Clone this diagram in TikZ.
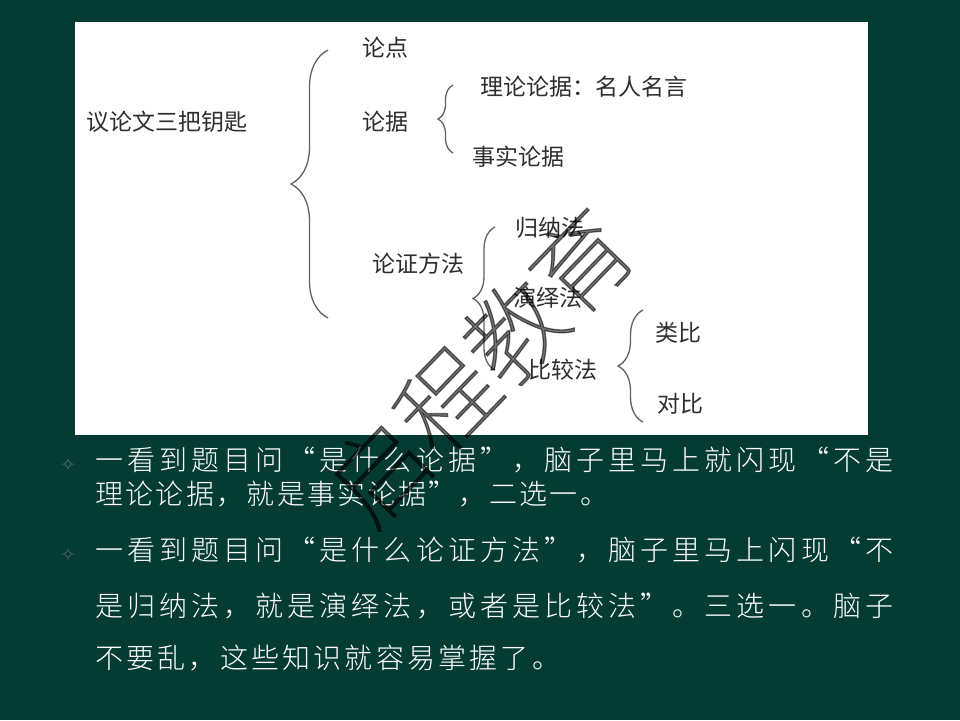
\documentclass[tikz,border=0pt]{standalone}
\usepackage{fontspec}
\usetikzlibrary{decorations.pathreplacing}
\newfontfamily\cjk{Noto Sans CJK SC}
\newfontfamily\sym{DejaVu Sans}
\IfFontExistsTF{Noto Sans CJK SC Thin}
  {\newfontfamily\wmfont{Noto Sans CJK SC Thin}\def\wmmode{2}}
  {\newfontfamily\wmfont{Noto Sans CJK SC}\def\wmmode{1}}
\IfFontExistsTF{Noto Sans CJK SC Light}
  {\newfontfamily\bodyfont{Noto Sans CJK SC Light}}
  {\newfontfamily\bodyfont{Noto Sans CJK SC}}
\definecolor{bggreen}{RGB}{4,59,51}
\definecolor{bulcol}{RGB}{80,95,110}
\def\spreadA#1{\ifx#1\relax\else#1\hfil\expandafter\spreadA\fi}
\newcommand\spreadline[2]{\hbox to #1{\spreadA#2\relax\unskip}}
\newcommand\wmtext[1]{\special{pdf:literal direct \wmmode\space Tr 1.2 w}#1\special{pdf:literal direct 0 Tr}}
\tikzset{
  lbl/.style={font=\cjk\fontsize{23}{23}\selectfont, text=black!82, inner sep=0pt, anchor=west},
  bracepath/.style={draw=black!62, line width=1.3pt, decorate, decoration={brace, amplitude=#1}},
  body/.style={font=\bodyfont\fontsize{28}{28}\selectfont, text=white, inner sep=0pt, anchor=base west},
  bul/.style={font=\sym\fontsize{19}{19}\selectfont, text=bulcol, inner sep=0pt},
  wm/.style={font=\wmfont\fontsize{97}{97}\selectfont, text=black, inner sep=0pt}
}
\begin{document}
\begin{tikzpicture}[x=1pt,y=-1pt]
\fill[bggreen] (0,0) rectangle (960,720);
\useasboundingbox (0,0) rectangle (960,720);
\fill[white] (75,22) rectangle (868,435);

% diagram labels
\node[lbl] (root) at (86,122) {议论文三把钥匙};
\node[lbl] (ld) at (362,48) {论点};
\node[lbl] (lj) at (362,122) {论据};
\node[lbl] (ll) at (480,87) {理论论据：名人名言};
\node[lbl] (ss) at (472,157) {事实论据};
\node[lbl] (lz) at (372,264) {论证方法};
\node[lbl] (gn) at (515,228) {归纳法};
\node[lbl] (yy) at (513,298) {演绎法};
\node[lbl] (bj) at (528,370) {比较法};
\node[lbl] (lb) at (655,333) {类比};
\node[lbl] (db) at (657,404) {对比};

% braces
\coordinate (b1t) at (328,50);  \coordinate (b1b) at (328,318);
\coordinate (b2t) at (453,85);  \coordinate (b2b) at (453,153);
\coordinate (b3t) at (495,227); \coordinate (b3b) at (495,370);
\coordinate (b4t) at (643,310); \coordinate (b4b) at (643,422);
\draw[bracepath=37pt] (b1b) -- (b1t);
\draw[bracepath=15pt] (b2b) -- (b2t);
\draw[bracepath=22pt] (b3b) -- (b3t);
\draw[bracepath=25pt] (b4b) -- (b4t);

% bullets and body text
\node[bul] (u1) at (68,465) {✧};
\node[bul] (u2) at (68,555) {✧};
\node[body] (t1a) at (95,470) {\spreadline{798pt}{一看到题目问“是什么论据”，脑子里马上就闪现“不是}};
\node[body] (t1b) at (95,504) {\spreadline{513pt}{理论论据，就是事实论据”，二选一。}};
\node[body] (t2a) at (95,560) {\spreadline{798pt}{一看到题目问“是什么论证方法”，脑子里马上闪现“不}};
\node[body] (t2b) at (95,616) {\spreadline{798pt}{是归纳法，就是演绎法，或者是比较法”。三选一。脑子}};
\node[body] (t2c) at (95,668) {\spreadline{465pt}{不要乱，这些知识就容易掌握了。}};

% watermark
\begin{scope}[opacity=0.55]
\node[wm, rotate=46] (wmk) at (480,366) {\wmtext{启程教育}};
\end{scope}
\end{tikzpicture}
\end{document}
